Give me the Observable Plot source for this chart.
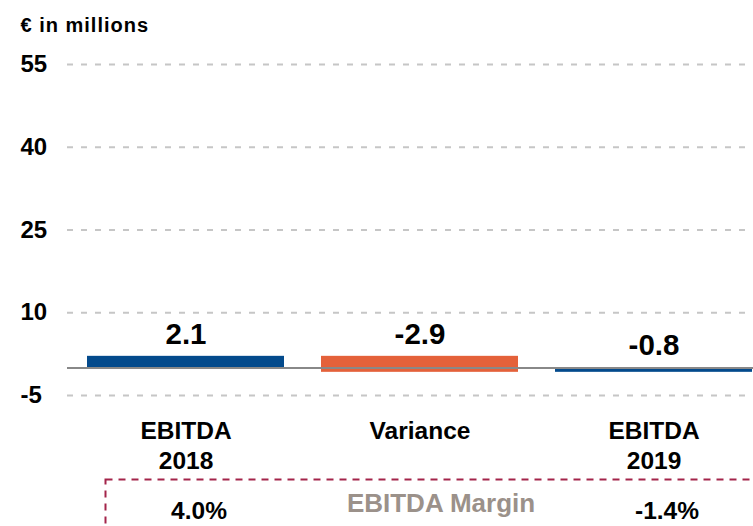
<!DOCTYPE html>
<html>
<head>
<meta charset="utf-8">
<script src="https://cdn.jsdelivr.net/npm/d3@7"></script>
<script src="https://cdn.jsdelivr.net/npm/@observablehq/plot@0.6"></script>
<style>
  html, body { margin: 0; padding: 0; overflow: hidden; background: white; }
  .unit-label text { letter-spacing: 1px; }
</style>
</head>
<body>
<div id="chart"></div>
<script>
// ---- data ----
const categories = ["EBITDA\n2018", "Variance", "EBITDA\n2019"];
const values = [2.1, -2.9, -0.8];
const kinds = ["total", "delta", "total"];
const valueLabels = ["2.1", "-2.9", "-0.8"];
const marginValues = ["4.0%", "", "-1.4%"];
const marginTitle = "EBITDA Margin";
const yTicks = [-5, 10, 25, 40, 55];
const unitLabel = "€ in millions";

// ---- waterfall table built from the arrays ----
let running = 0;
const rows = categories.map((c, i) => {
  let start, end;
  if (kinds[i] === "total") { start = 0; end = values[i]; running = values[i]; }
  else { start = running; end = running + values[i]; running = end; }
  return { cat: c, start, end, top: Math.max(start, end), label: valueLabels[i], kind: kinds[i], margin: marginValues[i] };
});

const FONT = "'Liberation Sans', Arial, Helvetica, sans-serif";
const colorOf = (d) => d.kind === "total" ? "#034a8c" : "#e4613a";

const chart = Plot.plot({
  width: 753,
  height: 526,
  marginLeft: 67,
  marginRight: 0,
  marginTop: 64,
  marginBottom: 131,
  style: { fontFamily: FONT, background: "white", overflow: "hidden" },
  x: { domain: categories, range: [67, 772], paddingInner: 0.156, paddingOuter: 0.081, label: null },
  y: { domain: [-5, 55], label: null },
  marks: [
    // dashed gridlines
    Plot.ruleY(yTicks, { stroke: "#c6c6c6", strokeWidth: 2, strokeDasharray: "6,8" }),
    // y tick labels
    Plot.axisY(yTicks, {
      tickSize: 0, tickPadding: 0, textAnchor: "start", dx: -47,
      tickFormat: d => String(d),
      fontSize: 24, fontWeight: "bold", fill: "#000", label: null
    }),
    // x category labels
    Plot.axisX({
      tickSize: 0, tickPadding: 23, fontSize: 24.5, fontWeight: "bold",
      fill: "#000", lineHeight: 1.2, label: null
    }),
    // waterfall bars
    Plot.barY(rows, { x: "cat", y1: "start", y2: "end", fill: colorOf }),
    // zero line
    Plot.ruleY([0], { stroke: "#888", strokeWidth: 2 }),
    // value labels
    Plot.text(rows, {
      x: "cat", y: "top", text: "label", dy: -22, lineAnchor: "middle",
      fontSize: 29.5, fontWeight: "bold", fill: "#000"
    }),
    // unit label
    Plot.text([unitLabel], {
      text: d => d, frameAnchor: "top-left", dx: -47, dy: -39,
      lineAnchor: "middle", textAnchor: "start", className: "unit-label",
      fontSize: 20, fontWeight: "bold", fill: "#000"
    }),
    // dashed margin box
    Plot.frame({
      stroke: "#a3244a", strokeWidth: 2, strokeDasharray: "7,6",
      insetTop: 415, insetBottom: -140, insetLeft: 38, insetRight: -20
    }),
    // margin values
    Plot.text(rows, {
      x: "cat", text: "margin", frameAnchor: "bottom", dy: 116, dx: 13,
      lineAnchor: "middle", fontSize: 24.5, fontWeight: "bold", fill: "#000"
    }),
    // margin title
    Plot.text([marginTitle], {
      x: () => categories[1], text: d => d, frameAnchor: "bottom", dy: 108, dx: 21,
      lineAnchor: "middle", fontSize: 26, fontWeight: "bold", fill: "#9b918a"
    })
  ]
});

document.getElementById("chart").appendChild(chart);
</script>
</body>
</html>
